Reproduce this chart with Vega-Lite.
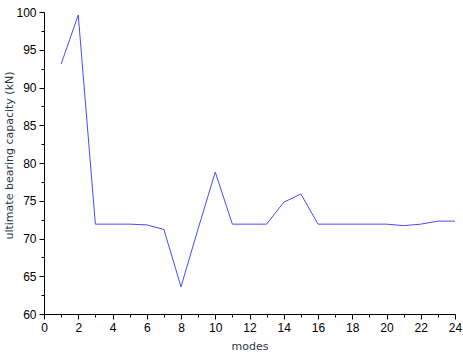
{
  "$schema": "https://vega.github.io/schema/vega-lite/v6.json",
  "width": 411,
  "height": 302,
  "autosize": "none",
  "padding": {"left": 44, "top": 12, "right": 8, "bottom": 44},
  "background": "white",
  "config": {
    "view": {"stroke": null},
    "axis": {
      "labelFont": "Liberation Sans",
      "labelFontSize": 12,
      "labelColor": "#000",
      "titleFont": "DejaVu Sans",
      "titleFontSize": 11,
      "titleFontWeight": "normal",
      "titleColor": "#2b3548",
      "domainColor": "#000",
      "tickColor": "#000",
      "grid": false
    }
  },
  "data": {
    "values": [
      {"mode": 1, "capacity": 93.1},
      {"mode": 2, "capacity": 99.6},
      {"mode": 3, "capacity": 71.9},
      {"mode": 4, "capacity": 71.9},
      {"mode": 5, "capacity": 71.9},
      {"mode": 6, "capacity": 71.8},
      {"mode": 7, "capacity": 71.2},
      {"mode": 8, "capacity": 63.6},
      {"mode": 9, "capacity": 71.3},
      {"mode": 10, "capacity": 78.8},
      {"mode": 11, "capacity": 71.9},
      {"mode": 12, "capacity": 71.9},
      {"mode": 13, "capacity": 71.9},
      {"mode": 14, "capacity": 74.8},
      {"mode": 15, "capacity": 75.9},
      {"mode": 16, "capacity": 71.9},
      {"mode": 17, "capacity": 71.9},
      {"mode": 18, "capacity": 71.9},
      {"mode": 19, "capacity": 71.9},
      {"mode": 20, "capacity": 71.9},
      {"mode": 21, "capacity": 71.7},
      {"mode": 22, "capacity": 71.9},
      {"mode": 23, "capacity": 72.3},
      {"mode": 24, "capacity": 72.3}
    ]
  },
  "layer": [
    {
      "mark": {"type": "line", "color": "#4a4aff", "strokeWidth": 1},
      "encoding": {
        "x": {
          "field": "mode", "type": "quantitative",
          "scale": {"domain": [0, 24], "nice": false, "zero": false},
          "axis": {"orient": "bottom", "values": [0,2,4,6,8,10,12,14,16,18,20,22,24], "title": "modes", "tickSize": 5, "labelPadding": 3, "titlePadding": 7, "labelFlush": false}
        },
        "y": {
          "field": "capacity", "type": "quantitative",
          "scale": {"domain": [60, 100], "nice": false, "zero": false},
          "axis": {"orient": "left", "values": [60,65,70,75,80,85,90,95,100], "title": "ultimate bearing capacity (kN)", "tickSize": 5, "labelPadding": 3, "titlePadding": 1, "titleY": 143, "labelFlush": false}
        }
      }
    },
    {
      "mark": {"type": "line", "opacity": 0},
      "encoding": {
        "x": {
          "field": "mode", "type": "quantitative",
          "scale": {"domain": [0, 24], "nice": false, "zero": false},
          "axis": {"orient": "bottom", "values": [1,3,5,7,9,11,13,15,17,19,21,23], "title": null, "labels": false, "domain": false, "tickSize": 3}
        },
        "y": {
          "field": "capacity", "type": "quantitative",
          "scale": {"domain": [60, 100], "nice": false, "zero": false},
          "axis": {"orient": "left", "values": [62.5,67.5,72.5,77.5,82.5,87.5,92.5,97.5], "title": null, "labels": false, "domain": false, "tickSize": 3}
        }
      }
    }
  ],
  "resolve": {"axis": {"x": "independent", "y": "independent"}}
}
